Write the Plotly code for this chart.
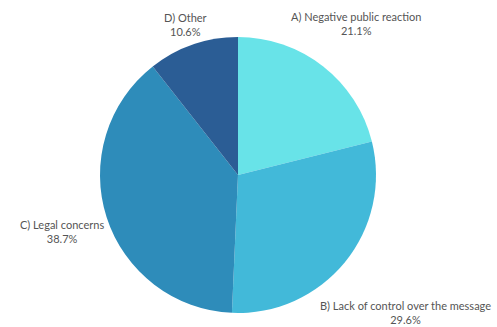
import numpy as np
import plotly.graph_objects as go

labels = ["A) Negative public reaction", "B) Lack of control over the message", "C) Legal concerns", "D) Other"]
values = [21.1, 29.6, 38.7, 10.6]
pct_text = ["21.1%", "29.6%", "38.7%", "10.6%"]
colors = ["#68E3E8", "#42B9D9", "#2E8CBA", "#2B5D95"]

W, H = 497, 327
CX, CY, R = 238, 175, 138

fig = go.Figure(go.Pie(
    labels=labels,
    values=values,
    sort=False,
    direction="clockwise",
    rotation=0,
    automargin=False,
    marker=dict(colors=colors, line=dict(width=0)),
    textinfo="none",
    hoverinfo="label+percent",
    showlegend=False,
    domain=dict(x=[(CX - R) / W, (CX + R) / W], y=[(H - CY - R) / H, (H - CY + R) / H]),
))

# outside labels placed along each slice's mid-angle
vals = np.array(values, dtype=float)
fr = vals / vals.sum()
mids = np.cumsum(fr) - fr / 2
CHAR_W, BOX_H, GAP = 5.0, 28.0, 2.0
for lab, pt, m in zip(labels, pct_text, mids):
    th = 2 * np.pi * m
    ux, uy = np.sin(th), -np.cos(th)
    w = max(len(lab), len(pt)) * CHAR_W
    d = R + GAP + abs(ux) * w / 2 + abs(uy) * BOX_H / 2
    px, py = CX + d * ux, CY + d * uy
    fig.add_annotation(
        x=px / W, y=1 - py / H, xref="paper", yref="paper",
        text=f"{lab}<br>{pt}", showarrow=False,
        xanchor="center", yanchor="middle", align="center",
        font=dict(family="Lato", size=11, color="#555555"),
    )

fig.update_layout(
    width=W, height=H,
    margin=dict(l=0, r=0, t=0, b=0, autoexpand=False),
    paper_bgcolor="white",
    plot_bgcolor="white",
)

fig.write_html("out.html")
